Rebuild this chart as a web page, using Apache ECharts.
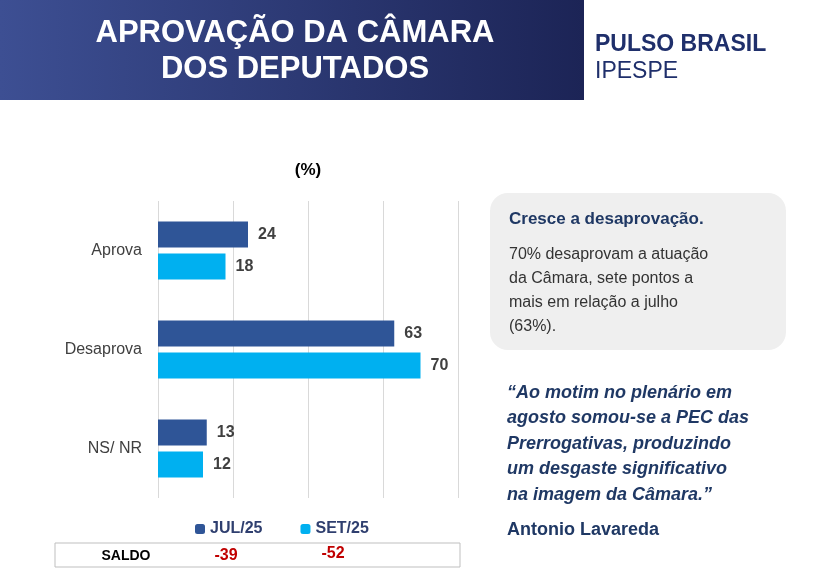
<!DOCTYPE html>
<html><head><meta charset="utf-8">
<script src="https://cdn.jsdelivr.net/npm/echarts@6/dist/echarts.min.js"></script>
<style>html,body{margin:0;padding:0;background:#fff}#chart{width:821px;height:580px}</style>
</head><body><div id="chart"></div>
<script>
const categories = ['Aprova', 'Desaprova', 'NS/ NR'];
const jul25 = [24, 63, 13];
const set25 = [18, 70, 12];
const saldo = ['-39', '-52'];
const xTicks = [0, 20, 40, 60, 80];

const chart = echarts.init(document.getElementById('chart'));
const F = 'Liberation Sans, Arial, sans-serif';
const lbl = {show: true, position: 'right', distance: 10, color: '#404040', fontWeight: 'bold', fontSize: 16, fontFamily: F};
const quote = ['“Ao motim no plenário em', 'agosto somou-se a PEC das', 'Prerrogativas, produzindo', 'um desgaste significativo', 'na imagem da Câmara.”'];
const body = ['70% desaprovam a atuação', 'da Câmara, sete pontos a', 'mais em relação a julho', '(63%).'];

chart.setOption({
  animation: false,
  grid: {left: 158, right: 363, top: 201, bottom: 82},
  xAxis: {type: 'value', min: xTicks[0], max: xTicks[xTicks.length - 1], interval: 20,
    axisLabel: {show: false}, splitLine: {lineStyle: {color: '#d9d9d9'}}},
  yAxis: {type: 'category', data: categories, inverse: true,
    axisLine: {show: false}, axisTick: {show: false},
    axisLabel: {color: '#404040', fontSize: 16, fontFamily: F, margin: 16}},
  legend: {left: 190, top: 516, itemWidth: 10, itemHeight: 10, itemGap: 38,
    textStyle: {fontSize: 16, color: '#2f3f6f', fontWeight: 'bold', fontFamily: F},
    data: ['JUL/25', 'SET/25']},
  series: [
    {name: 'JUL/25', type: 'bar', data: jul25, barWidth: 26, barGap: '24%', itemStyle: {color: '#2f5597'}, label: lbl},
    {name: 'SET/25', type: 'bar', data: set25, barWidth: 26, itemStyle: {color: '#00b0f0'}, label: lbl}
  ],
  graphic: [
    {type: 'rect', shape: {x: 0, y: 0, width: 584, height: 100},
      style: {fill: new echarts.graphic.LinearGradient(0, 0, 1, 0, [{offset: 0, color: '#3d4f93'}, {offset: 1, color: '#1c2456'}])}},
    {type: 'text', style: {text: 'APROVAÇÃO DA CÂMARA\nDOS DEPUTADOS', x: 295, y: 51, align: 'center', verticalAlign: 'middle',
      fill: '#fff', font: 'bold 31px ' + F, lineHeight: 36}},
    {type: 'text', style: {text: 'PULSO BRASIL', x: 595, y: 45, verticalAlign: 'middle', fill: '#1f2f6b', font: 'bold 23px ' + F}},
    {type: 'text', style: {text: 'IPESPE', x: 595, y: 72, verticalAlign: 'middle', fill: '#1f2f6b', font: '23px ' + F}},
    {type: 'text', style: {text: '(%)', x: 308, y: 170, align: 'center', verticalAlign: 'middle', fill: '#000', font: 'bold 17px ' + F}},
    {type: 'rect', shape: {x: 55, y: 543, width: 405, height: 24}, style: {fill: '#fff', stroke: '#bfbfbf', lineWidth: 1}},
    {type: 'text', style: {text: 'SALDO', x: 126, y: 556, align: 'center', verticalAlign: 'middle', fill: '#000', font: 'bold 14px ' + F}},
    {type: 'text', style: {text: saldo[0], x: 226, y: 556, align: 'center', verticalAlign: 'middle', fill: '#c00000', font: 'bold 16px ' + F}},
    {type: 'text', style: {text: saldo[1], x: 333, y: 554, align: 'center', verticalAlign: 'middle', fill: '#c00000', font: 'bold 16px ' + F}},
    {type: 'rect', shape: {x: 490, y: 193, width: 296, height: 157, r: 18}, style: {fill: '#efefef'}},
    {type: 'text', style: {text: 'Cresce a desaprovação.', x: 509, y: 219, verticalAlign: 'middle', fill: '#1f3864', font: 'bold 17px ' + F}},
    {type: 'text', style: {text: body.join('\n'), x: 509, y: 243, fill: '#333', font: '16px ' + F, lineHeight: 24}},
    {type: 'text', style: {text: quote.join('\n'), x: 507, y: 380, fill: '#1f3864', font: 'italic bold 18px ' + F, lineHeight: 25.5}},
    {type: 'text', style: {text: 'Antonio Lavareda', x: 507, y: 530, verticalAlign: 'middle', fill: '#1f3864', font: 'bold 18px ' + F}}
  ]
});
</script></body></html>
